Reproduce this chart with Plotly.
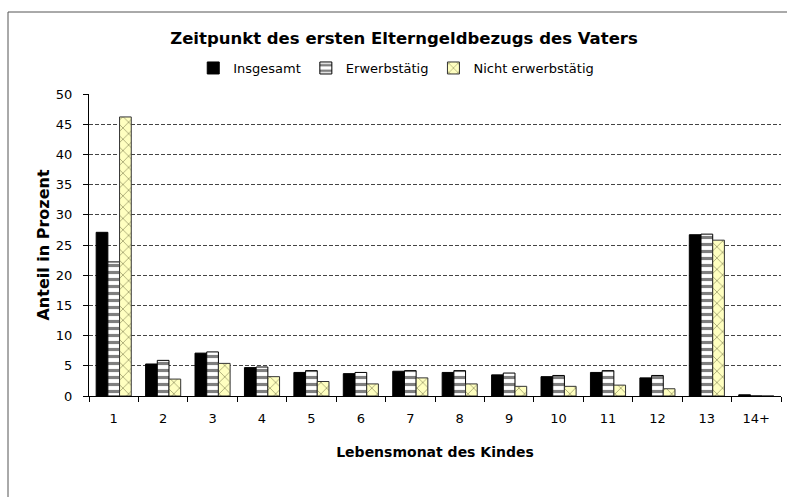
import plotly.graph_objects as go

categories = ["1", "2", "3", "4", "5", "6", "7", "8", "9", "10", "11", "12", "13", "14+"]
insgesamt = [27.1, 5.3, 7.1, 4.7, 3.9, 3.7, 4.1, 3.9, 3.5, 3.2, 3.9, 3.0, 26.7, 0.2]
erwerbstaetig = [22.2, 5.9, 7.3, 4.8, 4.2, 3.9, 4.2, 4.2, 3.8, 3.4, 4.2, 3.4, 26.8, 0.0]
nicht_erwerbstaetig = [46.2, 2.8, 5.4, 3.2, 2.4, 2.0, 3.0, 2.0, 1.6, 1.6, 1.8, 1.2, 25.8, 0.0]
y_ticks = [0, 5, 10, 15, 20, 25, 30, 35, 40, 45, 50]

FONT = "DejaVu Sans"

fig = go.Figure()
fig.add_trace(go.Bar(
    name="Insgesamt", x=categories, y=insgesamt,
    marker=dict(color="black", line=dict(color="black", width=1)),
))
fig.add_trace(go.Bar(
    name="Erwerbstätig", x=categories, y=erwerbstaetig,
    marker=dict(color="white", line=dict(color="black", width=1),
                pattern=dict(shape="-", fgcolor="black", size=7, solidity=0.45)),
))
fig.add_trace(go.Bar(
    name="Nicht erwerbstätig", x=categories, y=nicht_erwerbstaetig,
    marker=dict(color="#FFFFC0", line=dict(color="#333333", width=1),
                pattern=dict(shape="x", fgcolor="#4a4a20", size=8, solidity=0.2)),
))

fig.update_layout(
    width=787, height=497,
    margin=dict(l=89, r=6, t=94, b=101, autoexpand=False),
    paper_bgcolor="white", plot_bgcolor="white",
    barmode="group", bargap=0.29, bargroupgap=0,
    font=dict(family=FONT, size=13, color="black"),
    title=dict(text="<b>Zeitpunkt des ersten Elterngeldbezugs des Vaters</b>",
               font=dict(family=FONT, size=16.5, color="black"),
               xref="container", x=404 / 787, xanchor="center",
               yref="container", y=1 - 38 / 497, yanchor="middle"),
    legend=dict(orientation="h", x=0.444, xanchor="center", y=1.086, yanchor="middle",
                font=dict(family=FONT, size=13, color="black"),
                itemwidth=30, bgcolor="rgba(0,0,0,0)"),
    showlegend=True,
    shapes=[dict(type="rect", xref="paper", yref="paper",
                 x0=(8 - 89) / 692, x1=1.3, y0=-0.6, y1=1 + (94 - 12) / 302,
                 line=dict(color="#555555", width=1), layer="below")],
)

fig.update_xaxes(
    type="category", showline=True, linecolor="black", linewidth=1, automargin=False,
    ticks="outside", tickson="boundaries", ticklen=5, tickcolor="black",
    ticklabelstandoff=10, showgrid=False, zeroline=False,
    tickfont=dict(size=13),
    title=dict(text="<b>Lebensmonat des Kindes</b>", font=dict(family=FONT, size=14), standoff=22),
)
fig.update_yaxes(
    range=[0, 50], tickvals=y_ticks, showline=True, linecolor="black", linewidth=1, automargin=False,
    ticks="outside", ticklen=5, tickcolor="black", ticklabelstandoff=8,
    tickfont=dict(size=13),
    showgrid=True, gridcolor="#444444", griddash="4px,2px", gridwidth=1, zeroline=False,
    title=dict(text="<b>Anteil in Prozent</b>", font=dict(family=FONT, size=16), standoff=2),
)

fig.write_html(
    "out.html",
    config={"displayModeBar": False},
    post_script=(
        "document.body.style.margin='0';"
        "document.body.style.overflow='hidden';"
        "document.documentElement.style.overflow='hidden';"
    ),
)
